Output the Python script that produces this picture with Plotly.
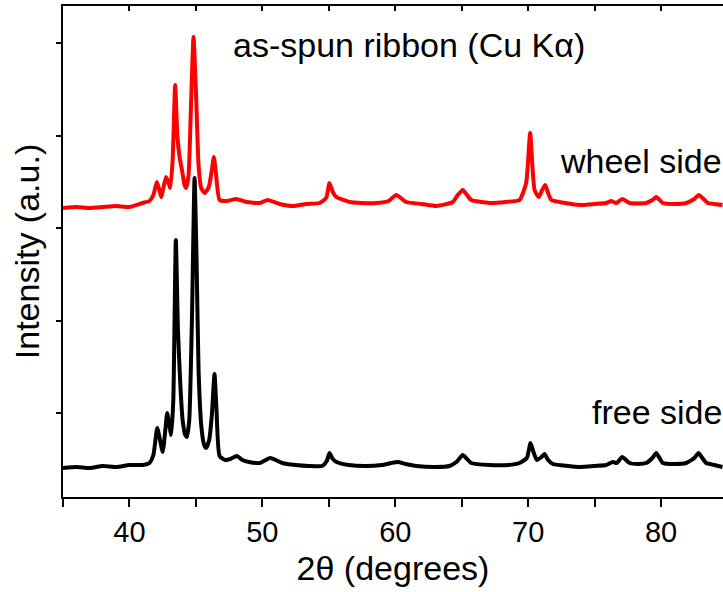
import plotly.graph_objects as go

# ---- data (2theta in degrees, intensity in a.u.) ----
free_two_theta = [35.0, 36.0, 37.0, 38.0, 39.0, 40.0, 41.0, 41.5, 41.8, 42.09, 42.3, 42.5, 42.7, 42.84,
                  43.0, 43.14, 43.3, 43.49, 43.65, 43.84, 44.0, 44.2, 44.32, 44.5, 44.7, 44.9, 45.05,
                  45.2, 45.4, 45.6, 45.77, 46.0, 46.2, 46.4, 46.55, 46.78, 47.2, 47.6, 48.08, 48.5,
                  49.0, 49.8, 50.59, 51.5, 52.5, 53.5, 54.5, 54.85, 55.05, 55.3, 55.58, 56.5, 57.8,
                  59.0, 59.7, 60.2, 60.8, 61.6, 63.0, 64.08, 64.6, 65.08, 65.4, 65.71, 67.1, 68.5,
                  69.35, 69.9, 70.18, 70.4, 70.65, 71.0, 71.23, 71.5, 71.86, 73.0, 73.87, 75.0, 75.87,
                  76.37, 76.67, 77.08, 77.63, 78.3, 78.88, 79.35, 79.64, 80.13, 81.0, 81.89, 82.5,
                  82.82, 83.1, 83.4, 84.0, 84.62]
free_intensity = [29, 30, 29, 31, 30, 32, 32, 34, 42, 69, 57, 45, 67, 84,
                  72, 62, 97, 257, 167, 109, 77, 62, 60, 77, 177, 319, 237,
                  127, 72, 53, 49, 57, 82, 123, 87, 41, 37, 38, 41, 37,
                  35, 34, 39, 34, 32, 31, 31, 36, 44, 38, 35, 32, 31,
                  32, 34, 35, 33, 31, 30, 31, 35, 42, 38, 34, 32, 32,
                  34, 39, 54, 45, 37, 40, 43, 37, 33, 31, 30, 31, 32,
                  35, 34, 40, 34, 33, 34, 39, 44, 34, 33, 34, 39,
                  44, 39, 34, 32, 30]

wheel_two_theta = [35.0, 36.0, 37.0, 38.0, 39.0, 40.0, 41.0, 41.5, 41.8, 42.06, 42.25, 42.39, 42.6, 42.76,
                   42.95, 43.07, 43.25, 43.44, 43.6, 43.77, 43.95, 44.15, 44.27, 44.45, 44.62, 44.82,
                   45.0, 45.2, 45.4, 45.65, 45.97, 46.2, 46.35, 46.5, 46.78, 47.3, 48.03, 48.8, 49.79,
                   50.41, 51.3, 52.29, 53.3, 54.3, 54.8, 55.05, 55.3, 55.56, 56.56, 57.5, 58.57, 59.5,
                   60.07, 60.82, 62.0, 63.08, 64.33, 64.7, 65.08, 65.4, 65.71, 67.09, 68.3, 69.35,
                   69.85, 70.15, 70.48, 70.8, 71.05, 71.28, 71.5, 71.74, 72.8, 73.87, 75.0, 75.87,
                   76.25, 76.63, 77.08, 77.63, 78.88, 79.35, 79.64, 80.13, 81.0, 81.89, 82.5, 82.84,
                   83.2, 83.52, 84.0, 84.62]
wheel_intensity = [289, 290, 289, 290, 291, 290, 294, 296, 302, 315, 307, 300, 312, 320,
                   314, 309, 337, 412, 362, 340, 327, 312, 309, 322, 387, 460,
                   407, 332, 309, 304, 310, 327, 340, 325, 297, 296, 298, 295, 294,
                   297, 293, 291, 293, 294, 299, 314, 305, 300, 295, 294, 294, 296,
                   302, 295, 293, 291, 295, 302, 307, 302, 297, 294, 295, 297,
                   314, 364, 307, 300, 307, 312, 304, 297, 294, 292, 293, 294,
                   296, 294, 298, 294, 294, 297, 300, 294, 293, 294, 298, 302,
                   298, 294, 293, 292]

x_tick_values = [35, 40, 45, 50, 55, 60, 65, 70, 75, 80, 85]
x_tick_labels = ["", "40", "", "50", "", "60", "", "70", "", "80", ""]
y_tick_values = [84, 176.5, 269, 361.5, 454]

FONT = "Arial, Liberation Sans, sans-serif"

fig = go.Figure()
fig.add_trace(go.Scatter(x=wheel_two_theta, y=wheel_intensity, mode="lines",
                         line=dict(color="#ff0000", width=4, shape="spline", smoothing=0.5),
                         name="wheel side", showlegend=False))
fig.add_trace(go.Scatter(x=free_two_theta, y=free_intensity, mode="lines",
                         line=dict(color="#000000", width=4, shape="spline", smoothing=0.5),
                         name="free side", showlegend=False))
# invisible trace for top axis
fig.add_trace(go.Scatter(x=[35, 85], y=[None, None], xaxis="x2", showlegend=False,
                         hoverinfo="skip"))

fig.update_layout(
    width=723, height=592,
    margin=dict(l=63, r=0, t=6, b=95),
    paper_bgcolor="white", plot_bgcolor="white",
    font=dict(family=FONT, color="black", size=29),
    xaxis=dict(range=[35, 84.66], tickvals=x_tick_values, ticktext=x_tick_labels,
               ticks="outside", ticklen=8, tickwidth=2, tickcolor="black",
               showline=True, linewidth=2, linecolor="black", showgrid=False, zeroline=False,
               tickfont=dict(size=29),
               title=dict(text="2θ (degrees)", font=dict(size=34), standoff=9)),
    xaxis2=dict(range=[35, 84.66], overlaying="x", side="top", tickvals=x_tick_values,
                showticklabels=False, ticks="inside", ticklen=5, tickwidth=2, tickcolor="black",
                showline=True, linewidth=2, linecolor="black", showgrid=False, zeroline=False),
    yaxis=dict(range=[0, 491], tickvals=y_tick_values, showticklabels=False,
               ticks="outside", ticklen=5, tickwidth=2, tickcolor="black",
               showline=True, linewidth=2, linecolor="black", showgrid=False, zeroline=False,
               title=dict(text="Intensity (a.u.)", font=dict(size=34), standoff=6)),
    annotations=[
        dict(x=47.66, y=452, xref="x", yref="y", text="as-spun ribbon (Cu Kα)",
             showarrow=False, xanchor="left", yanchor="middle", font=dict(size=34)),
        dict(x=72.28, y=336, xref="x", yref="y", text="wheel side",
             showarrow=False, xanchor="left", yanchor="middle", font=dict(size=34)),
        dict(x=74.62, y=85, xref="x", yref="y", text="free side",
             showarrow=False, xanchor="left", yanchor="middle", font=dict(size=34)),
    ],
)

fig.write_html("out.html")
